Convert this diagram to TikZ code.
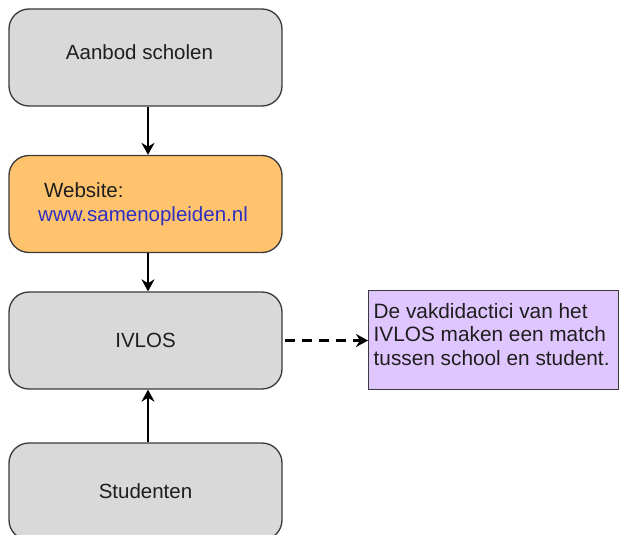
\documentclass[tikz,border=0pt]{standalone}
\usepackage{fontspec}
\setmainfont{Liberation Sans}
\usetikzlibrary{arrows.meta}
\definecolor{boxgray}{HTML}{D9D9D9}
\definecolor{boxorange}{HTML}{FFC36E}
\definecolor{boxpurple}{HTML}{E0C6FF}
\definecolor{edgecol}{HTML}{3A3A3A}
\definecolor{txt}{HTML}{1E1E1E}
\definecolor{urlblue}{HTML}{3030C0}
\tikzset{
  flowbox/.style={draw=edgecol, line width=1.3pt, rounded corners=20pt,
    minimum width=273pt, minimum height=97pt, inner sep=0pt,
    font=\fontsize{20.5}{23}\selectfont, text=txt},
  notebox/.style={draw=edgecol, line width=1.3pt, fill=boxpurple,
    minimum width=250pt, minimum height=99pt, inner sep=0pt},
  flowarrow/.style={line width=2.5pt, -{Stealth[length=12pt,width=13pt]}},
  plaintext/.style={inner sep=0pt, anchor=base west, text=txt,
    font=\fontsize{20.5}{23}\selectfont}
}
\begin{document}
\begin{tikzpicture}[x=1pt,y=-1pt]
\useasboundingbox[fill=white] (0,0) rectangle (619,535);
\node[flowbox, fill=boxgray] (aanbod) at (145.5,57.5) {};
\node[plaintext, anchor=base] (aanbodt) at (139.5,60) {Aanbod scholen};
\node[flowbox, fill=boxorange] (web) at (145.5,204) {};
\node[plaintext] (webt) at (44,197) {Website:};
\node[plaintext, text=urlblue] (url) at (38,221) {www.samenopleiden.nl};
\node[flowbox, fill=boxgray] (ivlos) at (145.5,340.5) {IVLOS};
\node[flowbox, fill=boxgray] (stud) at (145.5,491.5) {Studenten};
\node[notebox, anchor=north west] (note) at (368,290) {};
\node[plaintext, align=left, anchor=base west,
  font=\fontsize{20.8}{23.5}\selectfont] (notet) at (373.5,365)
  {De vakdidactici van het\\IVLOS maken een match\\tussen school en student.};
\draw[flowarrow] ([xshift=2.5pt]aanbod.south) -- ([xshift=2.5pt]web.north);
\draw[flowarrow] ([xshift=2.5pt]web.south) -- ([xshift=2.5pt]ivlos.north);
\draw[flowarrow] ([xshift=2.5pt]stud.north) -- ([xshift=2.5pt]ivlos.south);
\draw[flowarrow, dash pattern=on 10pt off 7pt] ([xshift=2pt]ivlos.east) -- (note.west |- ivlos.east);
\end{tikzpicture}
\end{document}
